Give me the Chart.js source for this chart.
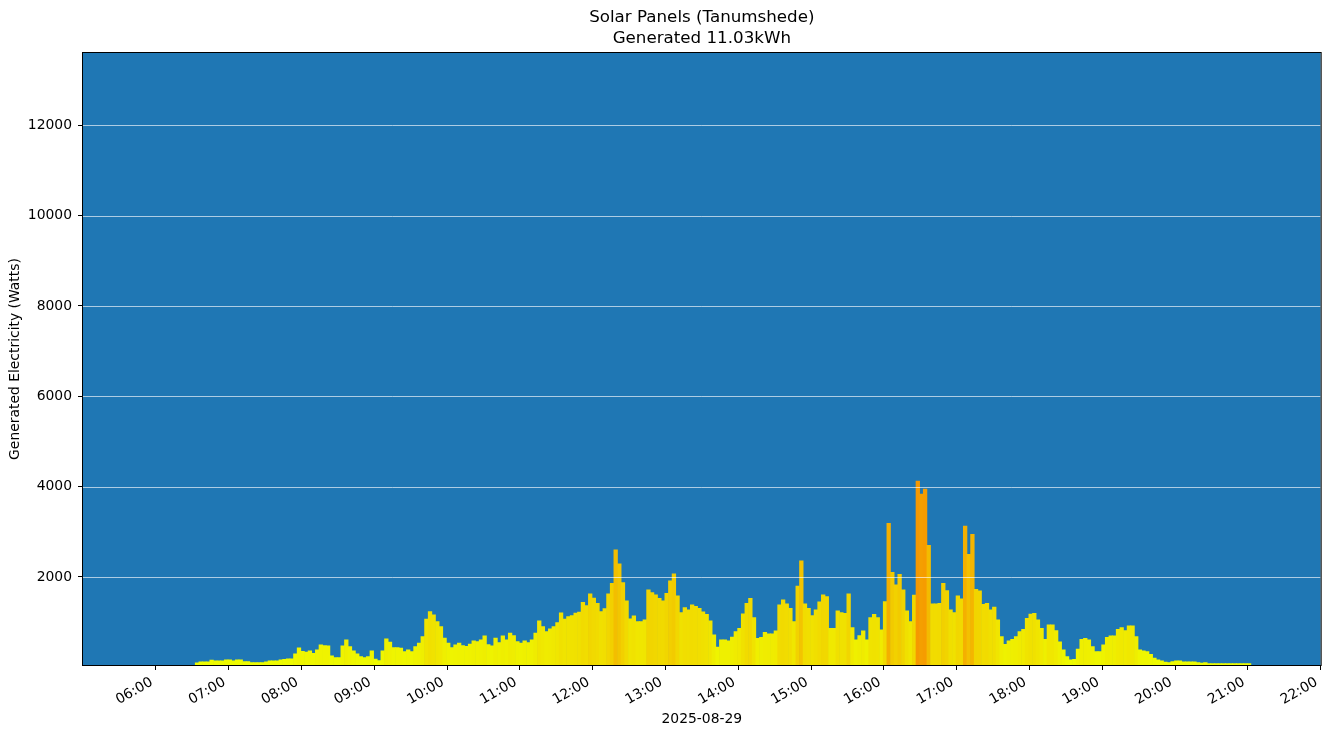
<!DOCTYPE html>
<html>
<head>
<meta charset="utf-8">
<title>Solar Panels (Tanumshede)</title>
<script src="https://cdn.jsdelivr.net/npm/chart.js@4.4.1/dist/chart.umd.min.js"></script>
<style>
    html, body { margin: 0; padding: 0; background: #fff; }
</style>
</head>
<body>
<canvas id="solarChart" width="1333" height="736"></canvas>
<script>
// readings every 3 minutes, first one at 06:34
const firstReading = '06:34';
const minutesPerReading = 3;

const generatedWatts = [
    97, 120, 120, 120, 157, 142, 142, 142, 164, 164, 142, 164, 164, 127, 127, 104, 104, 104, 104, 120,
    142, 142, 142, 164, 175, 186, 186, 300, 430, 350, 334, 363, 311, 385, 496, 480, 474,
    252, 215, 215, 473, 606, 458, 363, 296, 237, 215, 237, 363, 179, 148, 363, 628, 555, 436, 436, 422,
    348, 385, 348, 458, 533, 679, 1064, 1232, 1159, 1011, 900, 644, 533, 436, 495, 533, 480,
    465, 511, 584, 569, 606, 695, 500, 473, 644, 547, 695, 606, 754, 700, 569, 533, 584, 547, 606, 754,
    1027, 900, 790, 850, 900, 989, 1204, 1064, 1122, 1144, 1197, 1219, 1440, 1365, 1624, 1529, 1418,
    1232, 1300, 1624, 1860, 2600, 2288, 1874, 1469, 1071, 1137, 1011, 1011, 1048, 1712, 1653, 1602, 1528, 1469, 1639, 1911,
    2066, 1579, 1210, 1320, 1270, 1381, 1350, 1307, 1225, 1174, 1026, 717, 444, 606, 606, 584, 670,
    790, 864, 1181, 1417, 1528, 1100, 643, 665, 776, 739, 739, 805, 1380, 1491, 1403, 1307, 1011, 1800, 2354, 1403,
    1307, 1144, 1270, 1450, 1602, 1564, 864, 864, 1248, 1210, 1196, 1624, 879, 606, 700, 805, 606,
    1100, 1174, 1100, 827, 1454, 3187, 2100, 1823, 2059, 1712, 1248, 1011, 1600, 4124, 3836, 3947, 2700, 1403, 1403, 1417,
    1860, 1697, 1270, 1210, 1580, 1513, 3128, 2502, 2944, 1727, 1690, 1395, 1417, 1270, 1330, 1048, 680,
    510, 584, 621, 680, 790, 842, 1086, 1180, 1196, 1049, 864, 621, 938, 938, 812, 562, 385, 237, 164, 178,
    400, 621, 643, 606, 458, 347, 347, 496, 665, 695, 695, 842, 879, 812, 916, 916, 680,
    385, 363, 347, 289, 201, 164, 142, 112, 104, 127, 142, 142, 120, 120, 120, 120, 104, 95, 104, 82,
    82, 82, 82, 82, 82, 82, 82, 82, 82, 82, 82
];

const hourLabels = ['06:00', '07:00', '08:00', '09:00', '10:00', '11:00', '12:00', '13:00',
    '14:00', '15:00', '16:00', '17:00', '18:00', '19:00', '20:00', '21:00', '22:00'];
const wattTicks = [2000, 4000, 6000, 8000, 10000, 12000];

const chartTitle = ['Solar Panels (Tanumshede)', 'Generated 11.03kWh'];
const dayLabel = '2025-08-29';
const yLabel = 'Generated Electricity (Watts)';

const FONT = "'DejaVu Sans', 'Liberation Sans', sans-serif";

function toMinutes(hhmm) {
    const [h, m] = hhmm.split(':').map(Number);
    return h * 60 + m;
}

function toHHMM(min) {
    const h = Math.floor(min / 60), m = Math.round(min % 60);
    return String(h).padStart(2, '0') + ':' + String(m).padStart(2, '0');
}

// yellow -> orange with the output
function barColour(w) {
    const f = Math.min(w / 4100, 1);
    return 'rgb(' + Math.round(238 + 8 * f) + ',' + Math.round(255 - 103 * f) + ',0)';
}

const start = toMinutes(firstReading);
const points = generatedWatts.map((w, i) => ({ x: start + i * minutesPerReading, y: w }));

// blue plot face, white grid over the bars, black frame and the two line title
const plotFrame = {
    id: 'plotFrame',
    beforeDraw(chart) {
        const { ctx, chartArea: a } = chart;
        ctx.save();
        ctx.fillStyle = '#1f77b4';
        ctx.fillRect(a.left, a.top, a.width, a.height);
        ctx.restore();
    },
    afterDatasetsDraw(chart) {
        const { ctx, chartArea: a } = chart;
        const y = chart.scales.y;
        ctx.save();
        ctx.strokeStyle = 'rgba(255,255,255,0.8)';
        ctx.lineWidth = 0.8;
        wattTicks.forEach(v => {
            const py = Math.round(y.getPixelForValue(v)) + 0.5;
            ctx.beginPath();
            ctx.moveTo(a.left, py);
            ctx.lineTo(a.right, py);
            ctx.stroke();
        });
        ctx.strokeStyle = '#000';
        ctx.lineWidth = 1;
        ctx.strokeRect(a.left - 0.5, a.top - 0.5, a.width + 1, a.height + 1);

        ctx.fillStyle = '#000';
        ctx.font = '16.7px ' + FONT;
        ctx.textAlign = 'center';
        ctx.textBaseline = 'middle';
        const cx = (a.left + a.right) / 2;
        ctx.fillText(chartTitle[0], cx, 18);
        ctx.fillText(chartTitle[1], cx, 39);
        ctx.restore();
    }
};

const tickFont = { family: FONT, size: 13.9 };

new Chart(document.getElementById('solarChart'), {
    type: 'bar',
    data: {
        datasets: [{
            data: points,
            backgroundColor: generatedWatts.map(barColour),
            borderWidth: 0,
            barPercentage: 1,
            categoryPercentage: 1
        }]
    },
    options: {
        responsive: false,
        animation: false,
        devicePixelRatio: 1,
        layout: { padding: { top: 53, right: 10, left: 0, bottom: 0 } },
        plugins: {
            legend: { display: false },
            tooltip: { enabled: false },
            title: { display: false }
        },
        scales: {
            x: {
                type: 'linear',
                min: toMinutes('05:00'),
                max: toMinutes('22:00'),
                offset: false,
                afterFit: s => { s.height = 71; },
                afterBuildTicks: s => { s.ticks = hourLabels.map(l => ({ value: toMinutes(l) })); },
                ticks: {
                    callback: v => toHHMM(v),
                    minRotation: 30,
                    maxRotation: 30,
                    autoSkip: false,
                    labelOffset: -4,
                    padding: 4,
                    color: '#000',
                    font: tickFont
                },
                // bar charts shift index grid lines by half a step unless told not to
                grid: { offset: false, drawOnChartArea: false, tickLength: 5, tickColor: '#000', tickWidth: 1 },
                border: { display: false },
                title: { display: true, text: dayLabel, color: '#000', font: tickFont, padding: { top: 0, bottom: 8 } }
            },
            y: {
                min: 50,
                max: 13600,
                afterFit: s => { s.width = 83; },
                afterBuildTicks: s => { s.ticks = wattTicks.map(v => ({ value: v })); },
                ticks: { callback: v => String(v), padding: 6, color: '#000', font: tickFont },
                grid: { drawOnChartArea: false, tickLength: 5, tickColor: '#000', tickWidth: 1 },
                border: { display: false },
                title: { display: true, text: yLabel, color: '#000', font: tickFont, padding: { top: 7, bottom: 0 } }
            }
        }
    },
    plugins: [plotFrame]
});
</script>
</body>
</html>
